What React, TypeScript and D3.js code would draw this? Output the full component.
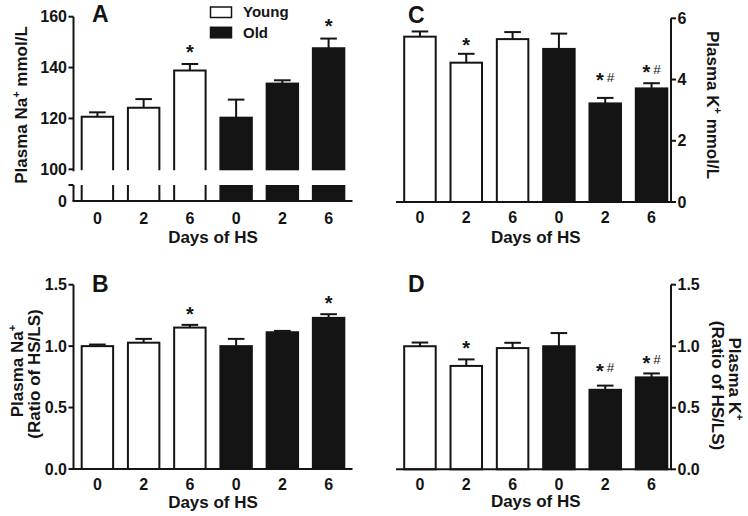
import React from 'react';
import * as d3 from 'd3';

// ---------- data ----------
const days = ['0', '2', '6', '0', '2', '6'];
const groups = ['Young', 'Young', 'Young', 'Old', 'Old', 'Old'];

const naMean = [120.7, 124.2, 138.8, 120.3, 133.7, 147.6];
const naSem = [1.7, 3.4, 2.6, 7.1, 1.3, 3.8];
const naMarks = ['', '', '*', '', '', '*'];
const naMarkAt = [0, 0, 147.7, 0, 0, 157.6];

const naRatioMean = [1.0, 1.028, 1.151, 1.0, 1.113, 1.23];
const naRatioSem = [0.013, 0.031, 0.022, 0.059, 0.011, 0.03];
const naRatioMarks = ['', '', '*', '', '', '*'];
const naRatioMarkAt = [0, 0, 1.289, 0, 0, 1.379];

const kMean = [5.4, 4.55, 5.32, 5.0, 3.22, 3.71];
const kSem = [0.17, 0.29, 0.23, 0.5, 0.18, 0.17];
const kMarks = ['', '*', '', '', '*#', '*#'];
const kMarkAt = [0, 5.24, 0, 0, 4.1, 4.35];

const kRatioMean = [1.0, 0.84, 0.985, 1.0, 0.646, 0.747];
const kRatioSem = [0.03, 0.053, 0.043, 0.107, 0.034, 0.032];
const kRatioMarks = ['', '*', '', '', '*#', '*#'];
const kRatioMarkAt = [0, 1.012, 0, 0, 0.83, 0.895];

const naTicks = [100, 120, 140, 160];
const ratioTicks = [0, 0.5, 1.0, 1.5];
const kTicks = [0, 2, 4, 6];

const legendItems = ['Young', 'Old'];

// ---------- style ----------
const INK = '#141414';
const FONT = "'Liberation Sans', Arial, Helvetica, sans-serif";
const SW = 2;
const TICK_FS = 16;

type PanelProps = {
  letter: string;
  letterX: number;
  letterY: number;
  rangeX: [number, number];
  axisX: number;
  side: 'left' | 'right';
  y: d3.ScaleLinear<number, number>;
  baseY: number;
  ticks: number[];
  fmt: (v: number) => string;
  mean: number[];
  sem: number[];
  marks: string[];
  markAt: number[];
  broken?: { lowTop: number };
  xLabelY: number;
  xTickY: number;
  yLabel: React.ReactNode;
};

function Mark({ cx, cy, m }: { cx: number; cy: number; m: string }) {
  if (!m) return null;
  const base = cy + 10.6;
  return (
    <text x={cx} y={base} textAnchor="middle" fill={INK} fontFamily={FONT}>
      <tspan fontSize={20} fontWeight="bold">*</tspan>
      {m.includes('#') ? (
        <tspan fontSize={13.5} fontWeight="normal" dx={3} dy={-5.5}>#</tspan>
      ) : null}
    </text>
  );
}

function Panel(p: PanelProps) {
  const idx = days.map((_, i) => String(i));
  const x = d3.scaleBand<string>().domain(idx).range(p.rangeX).paddingInner(0.32).paddingOuter(0.177);
  const bw = x.bandwidth();
  const capHalf = 8.3;
  const topY = p.y(p.ticks[p.ticks.length - 1]);
  const upperBottom = p.broken ? p.y(p.ticks[0]) + 1 : p.baseY;
  const dir = p.side === 'left' ? -1 : 1;
  const tickLen = 5;
  const baseX0 = p.side === 'left' ? p.axisX : p.rangeX[0];
  const baseX1 = p.side === 'left' ? p.rangeX[1] : p.axisX;

  return (
    <g>
      {/* bars */}
      {p.mean.map((m, i) => {
        const x0 = x(String(i))!;
        const old = groups[i] === 'Old';
        const yt = p.y(m);
        const fill = old ? INK : '#fff';
        if (!p.broken) {
          return (
            <rect key={i} x={x0} y={yt} width={bw} height={p.baseY - yt} fill={fill} stroke={INK} strokeWidth={SW} />
          );
        }
        const lowTop = p.broken.lowTop;
        return (
          <g key={i}>
            {old ? (
              <>
                <rect x={x0 - 1} y={yt - 1} width={bw + 2} height={upperBottom - yt + 1} fill={INK} />
                <rect x={x0 - 1} y={lowTop} width={bw + 2} height={p.baseY - lowTop} fill={INK} />
              </>
            ) : (
              <>
                <path d={`M${x0},${upperBottom}V${yt}H${x0 + bw}V${upperBottom}`} fill="#fff" stroke={INK} strokeWidth={SW} />
                <path d={`M${x0},${lowTop}V${p.baseY}M${x0 + bw},${lowTop}V${p.baseY}`} fill="none" stroke={INK} strokeWidth={SW} />
              </>
            )}
          </g>
        );
      })}
      {/* error bars */}
      {p.mean.map((m, i) => {
        const cx = x(String(i))! + bw / 2;
        const y0 = p.y(m);
        const y1 = p.y(m + p.sem[i]);
        return (
          <g key={'e' + i} stroke={INK} strokeWidth={SW}>
            <line x1={cx} x2={cx} y1={y0} y2={y1} />
            <line x1={cx - capHalf} x2={cx + capHalf} y1={y1} y2={y1} />
          </g>
        );
      })}
      {/* significance marks */}
      {p.marks.map((m, i) => (
        <Mark key={'m' + i} cx={x(String(i))! + bw / 2} cy={p.y(p.markAt[i])} m={m} />
      ))}
      {/* y axis */}
      <line x1={p.axisX} x2={p.axisX} y1={topY} y2={upperBottom + (p.broken ? 1 : 0)} stroke={INK} strokeWidth={SW} />
      {p.ticks.map((t) => (
        <g key={'t' + t}>
          <line x1={p.axisX} x2={p.axisX + dir * tickLen} y1={p.y(t)} y2={p.y(t)} stroke={INK} strokeWidth={SW} />
          <text
            x={p.axisX + dir * (tickLen + 1.5)}
            y={p.y(t) + 5.7}
            textAnchor={p.side === 'left' ? 'end' : 'start'}
            fontSize={TICK_FS}
            fontWeight="bold"
            fontFamily={FONT}
            fill={INK}
          >
            {p.fmt(t)}
          </text>
        </g>
      ))}
      {p.broken ? (
        <g>
          <line x1={p.axisX} x2={p.axisX} y1={p.broken.lowTop} y2={p.baseY} stroke={INK} strokeWidth={SW} />
          <line x1={p.axisX} x2={p.axisX - tickLen} y1={p.broken.lowTop} y2={p.broken.lowTop} stroke={INK} strokeWidth={SW} />
          <text x={p.axisX - tickLen - 1.5} y={p.baseY + 5.7} textAnchor="end" fontSize={TICK_FS} fontWeight="bold" fontFamily={FONT} fill={INK}>
            0
          </text>
        </g>
      ) : null}
      {/* x axis */}
      <line x1={baseX0 - (p.side === 'left' ? 1 : 0)} x2={baseX1 + (p.side === 'right' ? 1 : 0)} y1={p.baseY} y2={p.baseY} stroke={INK} strokeWidth={SW} />
      {days.map((d, i) => (
        <text
          key={'x' + i}
          x={x(String(i))! + bw / 2}
          y={p.xTickY}
          textAnchor="middle"
          fontSize={TICK_FS}
          fontWeight="bold"
          fontFamily={FONT}
          fill={INK}
        >
          {d}
        </text>
      ))}
      <text
        x={(p.rangeX[0] + p.rangeX[1]) / 2}
        y={p.xLabelY}
        textAnchor="middle"
        fontSize={17}
        fontWeight="bold"
        fontFamily={FONT}
        fill={INK}
      >
        Days of HS
      </text>
      <text x={p.letterX} y={p.letterY} fontSize={23} fontWeight="bold" fontFamily={FONT} fill={INK}>
        {p.letter}
      </text>
      {p.yLabel}
    </g>
  );
}

function YLabel({ x, y, rot, pre, sup, post }: { x: number; y: number; rot: number; pre: string; sup?: string; post?: string }) {
  return (
    <text
      transform={`translate(${x},${y}) rotate(${rot})`}
      textAnchor="middle"
      fontSize={17}
      fontWeight="bold"
      fontFamily={FONT}
      fill={INK}
    >
      {pre}
      {sup ? (
        <tspan fontSize={11} dy={-7}>
          {sup}
        </tspan>
      ) : null}
      {post ? <tspan dy={sup ? 7 : 0}>{post}</tspan> : null}
    </text>
  );
}

export default function App() {
  const fmt0 = (v: number) => d3.format('d')(v);
  const fmt1 = (v: number) => d3.format('.1f')(v);

  const yA = d3.scaleLinear().domain([100, 160]).range([169.3, 16.7]);
  const yB = d3.scaleLinear().domain([0, 1.5]).range([469, 284.7]);
  const yC = d3.scaleLinear().domain([0, 6]).range([202, 18.3]);
  const yD = d3.scaleLinear().domain([0, 1.5]).range([469.3, 284.7]);

  return (
    <svg width={748} height={516} style={{ position: 'absolute', left: 0, top: 0, background: '#fff' }}>
      <rect x={0} y={0} width={748} height={516} fill="#fff" />
      <Panel
        letter="A"
        letterX={92}
        letterY={22}
        rangeX={[73.5, 352.5]}
        axisX={73.5}
        side="left"
        y={yA}
        baseY={201}
        ticks={naTicks}
        fmt={fmt0}
        mean={naMean}
        sem={naSem}
        marks={naMarks}
        markAt={naMarkAt}
        broken={{ lowTop: 185 }}
        xTickY={224}
        xLabelY={243}
        yLabel={<YLabel x={27} y={105} rot={-90} pre="Plasma Na" sup="+" post=" mmol/L" />}
      />
      <Panel
        letter="B"
        letterX={92}
        letterY={291.5}
        rangeX={[73.5, 352.5]}
        axisX={73.5}
        side="left"
        y={yB}
        baseY={469}
        ticks={ratioTicks}
        fmt={fmt1}
        mean={naRatioMean}
        sem={naRatioSem}
        marks={naRatioMarks}
        markAt={naRatioMarkAt}
        xTickY={490}
        xLabelY={508}
        yLabel={
          <g>
            <YLabel x={22.5} y={371} rot={-90} pre="Plasma Na" sup="+" />
            <YLabel x={40} y={374} rot={-90} pre="(Ratio of HS/LS)" />
          </g>
        }
      />
      <Panel
        letter="C"
        letterX={408}
        letterY={23}
        rangeX={[396, 675.5]}
        axisX={671}
        side="right"
        y={yC}
        baseY={202}
        ticks={kTicks}
        fmt={fmt0}
        mean={kMean}
        sem={kSem}
        marks={kMarks}
        markAt={kMarkAt}
        xTickY={223}
        xLabelY={243}
        yLabel={<YLabel x={706.5} y={105} rot={90} pre="Plasma K" sup="+" post=" mmol/L" />}
      />
      <Panel
        letter="D"
        letterX={408}
        letterY={291.5}
        rangeX={[396, 675.5]}
        axisX={671}
        side="right"
        y={yD}
        baseY={469.3}
        ticks={ratioTicks}
        fmt={fmt1}
        mean={kRatioMean}
        sem={kRatioSem}
        marks={kRatioMarks}
        markAt={kRatioMarkAt}
        xTickY={490}
        xLabelY={507}
        yLabel={
          <g>
            <YLabel x={729} y={379} rot={90} pre="Plasma K" sup="+" />
            <YLabel x={712} y={385.5} rot={90} pre="(Ratio of HS/LS)" />
          </g>
        }
      />
      {/* legend */}
      {legendItems.map((name, i) => (
        <g key={name}>
          <rect
            x={210.5}
            y={7 + i * 20.3}
            width={21}
            height={10.5}
            fill={name === 'Old' ? INK : '#fff'}
            stroke={INK}
            strokeWidth={1.5}
          />
          <text x={243} y={17 + i * 21} fontSize={15} fontWeight="bold" fontFamily={FONT} fill={INK}>
            {name}
          </text>
        </g>
      ))}
    </svg>
  );
}
